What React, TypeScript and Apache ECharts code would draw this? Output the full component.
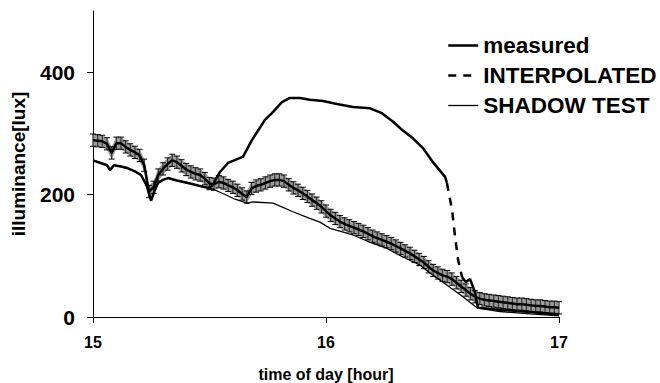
import React, { useEffect, useRef } from "react";
import * as echarts from "echarts";

const FONT = "'Liberation Sans', Arial, sans-serif";

// time of day [hour] -> illuminance [lux]
const measured: [number, number | null][] = [
  [15.0, 256], [15.03, 252], [15.06, 248], [15.073, 240], [15.09, 248], [15.12, 246],
  [15.15, 243], [15.18, 238], [15.206, 232], [15.23, 215], [15.249, 190], [15.265, 207],
  [15.279, 219], [15.3, 224], [15.322, 227], [15.36, 223], [15.408, 219], [15.45, 215],
  [15.494, 211], [15.511, 214], [15.545, 237], [15.58, 252], [15.601, 255], [15.644, 262],
  [15.682, 289], [15.738, 322], [15.768, 333], [15.811, 351], [15.845, 358], [15.888, 358],
  [15.931, 355], [15.987, 353], [16.047, 348], [16.116, 343], [16.189, 341], [16.24, 333],
  [16.288, 319], [16.326, 306], [16.373, 292], [16.416, 276], [16.459, 253], [16.511, 229],
  [16.519, 219], [16.55, null], [16.584, 65], [16.6, 57], [16.618, 62], [16.639, 41],
  [16.652, 15], [16.747, 12], [16.876, 8], [17.0, 4],
];

const interpolated: [number, number][] = [
  [16.519, 219], [16.541, 175], [16.554, 131], [16.567, 93], [16.584, 65],
];

const shadowTest: [number, number][] = [
  [15.0, 256], [15.03, 252], [15.06, 248], [15.073, 240], [15.09, 248], [15.12, 246],
  [15.15, 243], [15.18, 238], [15.206, 232], [15.23, 215], [15.249, 190], [15.265, 207],
  [15.279, 219], [15.3, 224], [15.322, 227], [15.36, 223], [15.408, 219], [15.45, 215],
  [15.494, 211], [15.515, 209], [15.55, 203], [15.601, 194], [15.661, 186], [15.687, 188],
  [15.773, 186], [15.858, 172], [15.93, 161], [15.974, 155], [16.017, 145], [16.116, 134],
  [16.19, 122], [16.262, 112], [16.33, 98], [16.403, 85], [16.446, 72], [16.52, 52],
  [16.588, 33], [16.648, 15], [16.747, 9], [16.876, 5], [17.0, 2],
];

// series drawn with error bars (not in legend)
const withErrors: [number, number][] = [
  [15.0, 289], [15.02, 288], [15.04, 287], [15.06, 283], [15.08, 268], [15.1, 284],
  [15.12, 284], [15.14, 278], [15.16, 273], [15.18, 269], [15.2, 264], [15.22, 248],
  [15.24, 205], [15.26, 212], [15.28, 232], [15.3, 242], [15.32, 250], [15.34, 256],
  [15.36, 253], [15.38, 247], [15.4, 241], [15.42, 237], [15.44, 234], [15.46, 232],
  [15.48, 226], [15.5, 218], [15.52, 217], [15.54, 221], [15.56, 219], [15.58, 215],
  [15.6, 212], [15.62, 207], [15.64, 201], [15.66, 196], [15.68, 210], [15.7, 214],
  [15.72, 216], [15.74, 219], [15.76, 222], [15.78, 224], [15.8, 224], [15.82, 222],
  [15.84, 216], [15.86, 211], [15.88, 207], [15.9, 202], [15.92, 197], [15.94, 191],
  [15.96, 186], [15.98, 180], [16.0, 173], [16.02, 166], [16.04, 161], [16.06, 156],
  [16.08, 152], [16.1, 149], [16.12, 146], [16.14, 143], [16.16, 140], [16.18, 136],
  [16.2, 132], [16.22, 129], [16.24, 126], [16.26, 123], [16.28, 120], [16.3, 116],
  [16.32, 112], [16.34, 108], [16.36, 104], [16.38, 99], [16.4, 94], [16.42, 89],
  [16.44, 82], [16.46, 76], [16.48, 72], [16.5, 68], [16.52, 66], [16.54, 62],
  [16.56, 56], [16.58, 50], [16.6, 44], [16.62, 38], [16.64, 33], [16.66, 30],
  [16.68, 28], [16.7, 27], [16.72, 26], [16.74, 25], [16.76, 24], [16.78, 23],
  [16.8, 22], [16.82, 21], [16.84, 21], [16.86, 20], [16.88, 19], [16.9, 18],
  [16.92, 18], [16.94, 17], [16.96, 16], [16.98, 16], [17.0, 15],
];
const ERROR = 10;

const legendNames = ["measured", "INTERPOLATED", "SHADOW TEST"];
const yTicks = [0, 200, 400];

export default function App() {
  const ref = useRef<HTMLDivElement>(null);
  useEffect(() => {
    if (!ref.current) return;
    const chart = echarts.init(ref.current, null, { renderer: "svg" });
    const lineStyles: Record<string, any> = {
      measured: { color: "#000", width: 2.5 },
      INTERPOLATED: { color: "#000", width: 2.5, type: [8, 7] },
      "SHADOW TEST": { color: "#000", width: 1.3 },
    };
    chart.setOption({
      animation: false,
      backgroundColor: "#fff",
      grid: { left: 93, right: 101, top: 11, bottom: 66, containLabel: false, outerBoundsMode: "none" },
      legend: {
        data: legendNames.map((n) => ({ name: n, lineStyle: lineStyles[n] })),
        orient: "vertical",
        left: 447,
        top: 34,
        padding: 0,
        itemWidth: 30,
        itemHeight: 14,
        itemGap: 7,
        itemStyle: { opacity: 0, color: "rgba(0,0,0,0)", borderWidth: 0 },
        textStyle: { fontFamily: FONT, fontWeight: "bold", fontSize: 22.5, color: "#000" },
      },
      xAxis: {
        type: "value",
        min: 15,
        max: 17,
        interval: 1,
        name: "time of day [hour]",
        nameLocation: "middle",
        nameGap: 49,
        nameTextStyle: { fontFamily: FONT, fontWeight: "bold", fontSize: 16, color: "#000" },
        axisLine: { onZero: false, lineStyle: { color: "#000", width: 1 } },
        axisTick: { length: 6, lineStyle: { color: "#000" } },
        axisLabel: { fontFamily: FONT, fontWeight: "bold", fontSize: 16, color: "#000", margin: 17 },
        splitLine: { show: false },
      },
      yAxis: {
        type: "value",
        min: 0,
        max: 500,
        interval: 100,
        name: "illuminance[lux]",
        nameLocation: "middle",
        nameGap: 65,
        nameRotate: 90,
        nameTextStyle: { fontFamily: FONT, fontWeight: "bold", fontSize: 19, color: "#000" },
        axisLine: { show: true, lineStyle: { color: "#000", width: 1 } },
        axisTick: { show: true, length: 6, customValues: yTicks, lineStyle: { color: "#000" } },
        axisLabel: {
          customValues: yTicks,
          fontFamily: FONT,
          fontWeight: "bold",
          fontSize: 21,
          color: "#000",
          margin: 18,
        },
        splitLine: { show: false },
      },
      series: [
        {
          type: "custom",
          name: "errors",
          data: withErrors,
          encode: { x: 0, y: 1 },
          z: 2,
          renderItem: (params: any, api: any) => {
            const i = params.dataIndex;
            const x = api.value(0);
            const y = api.value(1);
            const top = api.coord([x, y + ERROR]);
            const bot = api.coord([x, y - ERROR]);
            const hw = 3;
            const st = { stroke: "#333", lineWidth: 1.2 };
            const cap = { stroke: "#000", lineWidth: 1 };
            const children: any[] = [];
            const next = withErrors[i + 1];
            if (next) {
              const nTop = api.coord([next[0], next[1] + ERROR]);
              const nBot = api.coord([next[0], next[1] - ERROR]);
              children.push({
                type: "polygon",
                shape: { points: [top, nTop, nBot, bot] },
                style: { fill: "#9c9c9c" },
              });
            }
            children.push(
              { type: "line", shape: { x1: top[0], y1: top[1], x2: bot[0], y2: bot[1] }, style: st },
              { type: "line", shape: { x1: top[0] - hw, y1: top[1], x2: top[0] + hw, y2: top[1] }, style: cap },
              { type: "line", shape: { x1: bot[0] - hw, y1: bot[1], x2: bot[0] + hw, y2: bot[1] }, style: cap }
            );
            return { type: "group", children };
          },
        },
        {
          type: "line",
          name: "errors-mean",
          data: withErrors,
          symbol: "none",
          z: 3,
          lineStyle: { color: "#000", width: 2.5 },
        },
        {
          type: "line",
          name: "measured",
          data: measured,
          symbol: "none",
          connectNulls: false,
          z: 4,
          color: "#000",
          lineStyle: lineStyles.measured,
        },
        {
          type: "line",
          name: "INTERPOLATED",
          data: interpolated,
          symbol: "none",
          z: 4,
          color: "#000",
          lineStyle: lineStyles.INTERPOLATED,
        },
        {
          type: "line",
          name: "SHADOW TEST",
          data: shadowTest,
          symbol: "none",
          z: 4,
          color: "#000",
          lineStyle: lineStyles["SHADOW TEST"],
        },
      ],
    });
    return () => chart.dispose();
  }, []);
  return <div ref={ref} style={{ width: 660, height: 383, position: "absolute", left: 0, top: 0 }} />;
}
